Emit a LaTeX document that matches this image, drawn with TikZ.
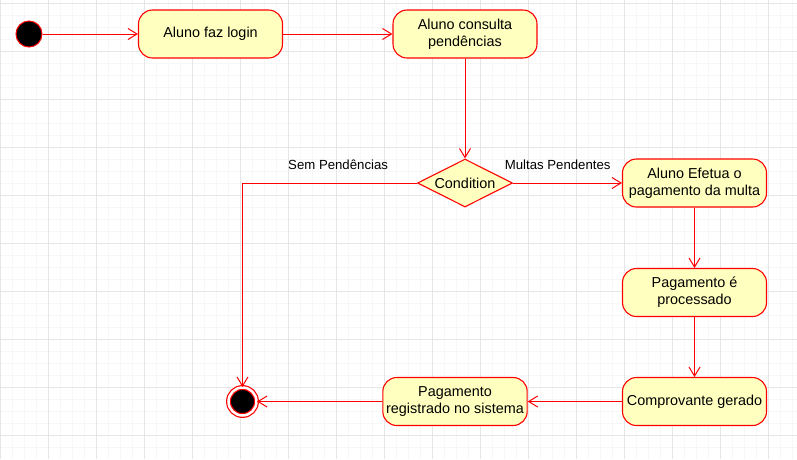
\documentclass[tikz,border=0pt]{standalone}
\usepackage{fontspec}
\setmainfont{Liberation Sans}
\usepackage{tikz}
\usetikzlibrary{shapes.geometric,arrows.meta,positioning}
\definecolor{umlred}{HTML}{FF0000}
\definecolor{umlfill}{HTML}{FFFFC0}
\definecolor{gridminor}{HTML}{F7F7F7}
\definecolor{gridmajor}{HTML}{E6E6E6}
\tikzstyle{activity} = [rectangle, rounded corners=14pt, draw=umlred, line width=1.1pt, fill=umlfill, minimum width=144pt, minimum height=48pt, align=center, font=\fontsize{14.4}{17.3}\selectfont]
\tikzstyle{decision} = [diamond, aspect=2, draw=umlred, line width=1.1pt, fill=umlfill, minimum width=95pt, minimum height=48pt, inner sep=0pt, font=\fontsize{14.4}{17.3}\selectfont]
\tikzstyle{initial} = [circle, draw=umlred, line width=1pt, fill=black, minimum size=26pt, inner sep=0pt]
\tikzstyle{final} = [circle, draw=umlred, line width=1.2pt, double=white, double distance=2.5pt, fill=black, minimum size=28pt, inner sep=0pt]
\tikzstyle{arrow} = [draw, line width=1pt, color=umlred, -{Straight Barb[length=9pt,width=11pt]}]
\tikzstyle{answer} = [color=black, font=\fontsize{13.2}{15.8}\selectfont]

\begin{document}
\begin{tikzpicture}[x=1pt, y=-1pt]

  \useasboundingbox (0,0) rectangle (797,459);
  % background grid
  \foreach \x in {0,12,...,792} \draw[gridminor, line width=1pt] (\x,0) -- (\x,459);
  \foreach \y in {3.3,15.3,...,459} \draw[gridminor, line width=1pt] (0,\y) -- (797,\y);
  \foreach \x in {0,48,...,792} \draw[gridmajor, line width=1pt] (\x,0) -- (\x,459);
  \foreach \y in {3.3,51.3,...,459} \draw[gridmajor, line width=1pt] (0,\y) -- (797,\y);

  \node[initial] (start) at (29,34) {};
  \node[activity, right of=start, node distance=181.5pt] (login) {Aluno faz login};
  \node[activity, right of=login, node distance=254.5pt] (consulta) {Aluno consulta\\pendências};
  \node[decision, below of=consulta, node distance=149pt] (condition) {Condition};
  \node[activity, right of=condition, node distance=229.5pt] (efetua) {Aluno Efetua o\\pagamento da multa};
  \node[activity, below of=efetua, node distance=109.5pt] (processado) {Pagamento é\\processado};
  \node[activity, below of=processado, node distance=109pt] (comprovante) {Comprovante gerado};
  \node[activity, left of=comprovante, node distance=239.5pt] (registrado) {Pagamento\\registrado no sistema};
  \node[final, left of=registrado, node distance=212.5pt] (end) {};

  \path[arrow] (start)--(login);
  \path[arrow] (login)--(consulta);
  \path[arrow] (consulta)--(condition);
  \path[arrow] (condition) -- node[answer, pos=0.41, above=10pt] {Multas Pendentes} (efetua);
  \path[arrow] (condition) -| node[answer, pos=0.226, above=10pt] {Sem Pendências} (end);
  \path[arrow] (efetua)--(processado);
  \path[arrow] (processado)--(comprovante);
  \path[arrow] (comprovante)--(registrado);
  \path[arrow] (registrado)--(end);

\end{tikzpicture}
\end{document}
